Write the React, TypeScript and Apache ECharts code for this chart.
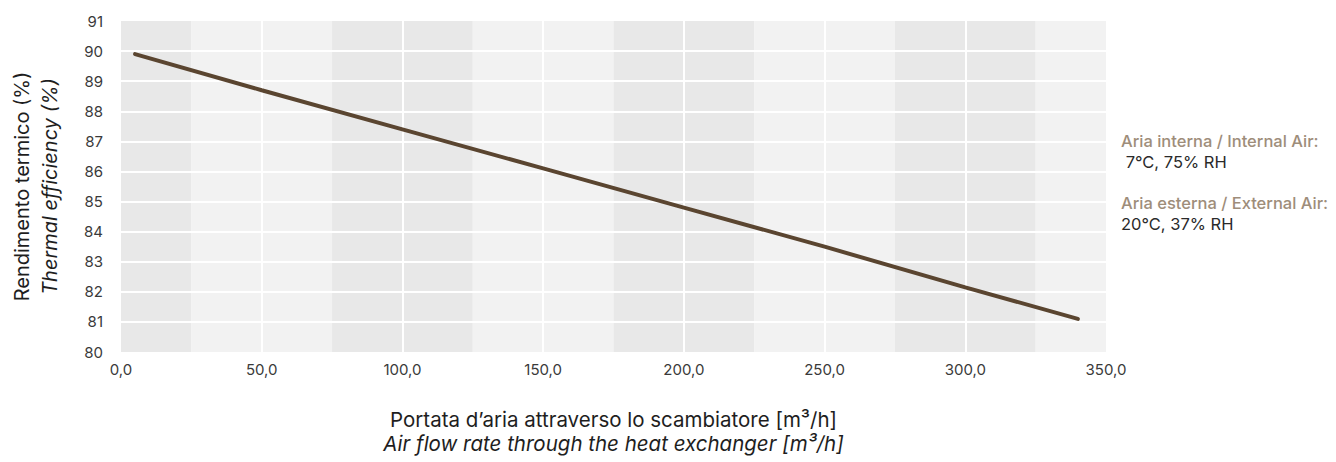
import React, { useEffect, useRef } from "react";
import * as echarts from "echarts";

const flowRates = [5, 50, 100, 150, 200, 250, 300, 340];
const efficiency = [89.9, 88.7, 87.4, 86.1, 84.8, 83.5, 82.15, 81.1];
const bandEdges = [0, 25, 75, 125, 175, 225, 275, 325, 350];
const xTicks = [0, 50, 100, 150, 200, 250, 300, 350];
const yTickMin = 80;
const yTickMax = 91;

const yNameIt = "Rendimento termico (%)";
const yNameEn = "Thermal efficiency (%)";
const xNameIt = "Portata d\u2019aria attraverso lo scambiatore [m\u00b3/h]";
const xNameEn = "Air flow rate through the heat exchanger [m\u00b3/h]";
const noteTitles = ["Aria interna / Internal Air:", "Aria esterna / External Air:"];
const noteValues = [" 7\u00b0C, 75% RH", "20\u00b0C, 37% RH"];

const FONT = "Inter, 'Noto Sans', sans-serif";

export default function App() {
  const ref = useRef<HTMLDivElement>(null);
  useEffect(() => {
    document.body.style.margin = "0";
    const chart = echarts.init(ref.current!, null, { renderer: "svg" });
    const bands: any[] = [];
    for (let i = 0; i < bandEdges.length - 1; i++) {
      bands.push([
        { xAxis: bandEdges[i], itemStyle: { color: i % 2 === 0 ? "#e8e8e8" : "#f2f2f2" } },
        { xAxis: bandEdges[i + 1] },
      ]);
    }
    const graphics: any[] = [];
    const titleY = [141, 203];
    const valueY = [162, 224];
    noteTitles.forEach((t, i) => {
      graphics.push({
        type: "text",
        x: 1121,
        y: titleY[i],
        style: { text: t, fill: "#9e8d7a", font: `500 16.5px ${FONT}`, verticalAlign: "middle" },
      });
      graphics.push({
        type: "text",
        x: 1121,
        y: valueY[i],
        style: { text: noteValues[i], fill: "#2a2a2a", font: `400 16.5px ${FONT}`, verticalAlign: "middle" },
      });
    });
    chart.setOption({
      animation: false,
      textStyle: { fontFamily: FONT },
      grid: { left: 121, top: 21, right: 230, bottom: 110, containLabel: false },
      xAxis: {
        type: "value",
        min: xTicks[0],
        max: xTicks[xTicks.length - 1],
        interval: 50,
        z: 3,
        axisLine: { show: false },
        axisTick: { show: false },
        splitLine: { show: true, showMinLine: false, showMaxLine: false, lineStyle: { color: "#ffffff", width: 2 } },
        axisLabel: {
          color: "#3a3a3a",
          fontSize: 15,
          fontFamily: FONT,
          margin: 10,
          formatter: (v: number) => v.toFixed(1).replace(".", ","),
        },
        name: `{a|${xNameIt}}\n{b|${xNameEn}}`,
        nameLocation: "middle",
        nameGap: 55,
        nameTextStyle: {
          rich: {
            a: { fontSize: 20.5, color: "#1e1e1e", fontFamily: FONT, lineHeight: 24 },
            b: { fontSize: 20.5, color: "#1e1e1e", fontFamily: FONT, fontStyle: "italic", lineHeight: 24 },
          },
        },
      },
      yAxis: {
        type: "value",
        min: yTickMin,
        max: yTickMax,
        interval: 1,
        z: 3,
        axisLine: { show: false },
        axisTick: { show: false },
        splitLine: { show: true, showMinLine: false, showMaxLine: false, lineStyle: { color: "#ffffff", width: 2 } },
        axisLabel: { color: "#3a3a3a", fontSize: 15, fontFamily: FONT, margin: 18 },
        name: `{a|${yNameIt}}\n{b|${yNameEn}}`,
        nameLocation: "middle",
        nameRotate: 90,
        nameGap: 57,
        nameTextStyle: {
          rich: {
            a: { fontSize: 20, color: "#1e1e1e", fontFamily: FONT, lineHeight: 28 },
            b: { fontSize: 20, color: "#1e1e1e", fontFamily: FONT, fontStyle: "italic", lineHeight: 28 },
          },
        },
      },
      series: [
        {
          type: "line",
          z: 1,
          data: [],
          silent: true,
          markArea: { silent: true, data: bands },
        },
        {
          type: "line",
          z: 5,
          showSymbol: false,
          symbol: "none",
          data: flowRates.map((x, i) => [x, efficiency[i]]),
          lineStyle: { color: "#5a4530", width: 4, cap: "round" },
        },
      ],
      graphic: graphics,
    });
    return () => chart.dispose();
  }, []);
  return <div ref={ref} style={{ width: 1336, height: 462 }} />;
}
